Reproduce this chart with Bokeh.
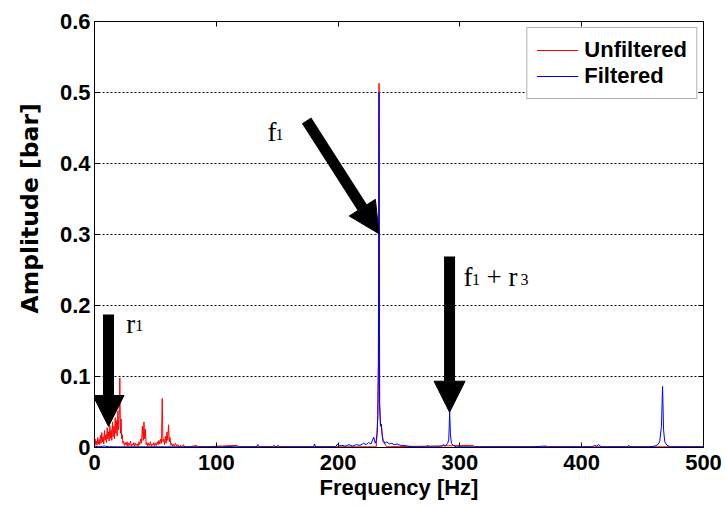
from bokeh.plotting import figure
from bokeh.models import (ColumnDataSource, Arrow, NormalHead, Legend, LegendItem,
                          FixedTicker, Range1d, LinearAxis, Title)
from bokeh.core.properties import value
from bokeh.embed import file_html
from bokeh.resources import INLINE

# ---- spectrum of the raw pressure signal (bar vs Hz) ----
unfilt_freq = [0.0, 0.5, 1.0, 1.6, 2.1, 2.7, 3.2, 3.8, 4.3, 4.9, 5.4, 6.0, 6.5, 7.1, 7.6,
               8.2, 8.7, 9.3, 9.8, 10.4, 10.9, 11.5, 12.0, 12.6, 13.1, 13.7, 14.2, 14.8,
               15.3, 15.9, 16.4, 17.0, 17.5, 18.1, 18.6, 19.2, 19.7, 20.3, 20.8, 21.3, 21.8,
               22.3, 22.8, 23.3, 23.9, 24.5, 25.2, 26.0, 26.7, 27.4, 28.1, 28.8, 29.5, 30.2,
               30.9, 31.6, 32.3, 33.0, 33.7, 34.4, 35.1, 35.8, 36.5, 37.2, 37.9, 38.6, 39.3,
               40.0, 40.6, 41.2, 41.8, 42.4, 43.1, 43.8, 44.5, 45.2, 45.9, 46.6, 47.3, 48.0,
               48.7, 49.4, 50.1, 50.8, 51.5, 52.2, 52.9, 53.6, 54.3, 55.0, 55.6, 56.2, 56.9,
               57.5, 58.2, 58.8, 59.5, 60.1, 60.8, 61.4, 62.0, 62.7, 63.4, 64.1, 64.8, 65.5,
               66.5, 67.5, 68.5, 69.5, 71.0, 72.0, 73.0, 74.0, 78.0, 84.0, 85.0, 90.0,
               117.0, 118.0, 231.3, 232.0, 232.6, 233.1, 233.6, 234.1, 234.8, 235.5, 236.2,
               237.0, 240.0, 311.0, 312.0, 500.0]
unfilt_amp = [0.003, 0.012, 0.004, 0.009, 0.003, 0.014, 0.005, 0.011, 0.004, 0.017, 0.006,
              0.021, 0.008, 0.015, 0.005, 0.024, 0.010, 0.018, 0.007, 0.028, 0.012, 0.022,
              0.009, 0.031, 0.013, 0.025, 0.010, 0.036, 0.015, 0.030, 0.012, 0.042, 0.020,
              0.038, 0.016, 0.052, 0.025, 0.045, 0.098, 0.020, 0.040, 0.012, 0.018, 0.006,
              0.009, 0.003, 0.007, 0.003, 0.008, 0.002, 0.006, 0.003, 0.009, 0.002, 0.005,
              0.003, 0.007, 0.002, 0.006, 0.003, 0.005, 0.002, 0.008, 0.004, 0.012, 0.006,
              0.030, 0.010, 0.036, 0.012, 0.026, 0.004, 0.007, 0.002, 0.006, 0.003, 0.008,
              0.002, 0.005, 0.003, 0.007, 0.002, 0.006, 0.003, 0.008, 0.004, 0.010, 0.005,
              0.012, 0.006, 0.069, 0.008, 0.012, 0.004, 0.016, 0.006, 0.022, 0.010, 0.032,
              0.008, 0.014, 0.003, 0.006, 0.002, 0.005, 0.002, 0.006, 0.002, 0.004, 0.001,
              0.003, 0.001, 0.004, 0.001, 0.001, 0.003, 0.001, 0.001,
              0.003, 0.001, 0.001, 0.020, 0.045, 0.120, 0.513, 0.062, 0.032, 0.030, 0.016,
              0.008, 0.001, 0.003, 0.001, 0.001]

# ---- spectrum after filtering ----
filt_freq = [0.0, 3.0, 8.0, 12.0, 20.0, 30.0, 45.0, 60.0, 75.0, 90.0, 105.0, 117.0, 118.0,
             133.0, 134.0, 135.0, 146.0, 147.0, 149.0, 151.0, 152.0, 165.0, 180.0, 180.6,
             181.5, 198.0, 199.5, 200.5, 203.0, 206.0, 209.0, 212.0, 215.0, 218.0, 221.0,
             223.0, 225.0, 227.0, 229.3, 230.5, 231.3, 232.0, 232.6, 233.1, 233.6, 234.1,
             234.8, 235.5, 236.2, 237.0, 238.5, 240.0, 242.0, 244.0, 246.0, 248.5, 251.0,
             254.0, 257.0, 262.0, 273.0, 273.5, 274.5, 284.0, 286.6, 288.0, 290.0, 290.9,
             291.6, 292.2, 293.0, 294.5, 297.0, 311.0, 330.0, 360.0, 371.0, 372.0, 390.0,
             409.0, 410.5, 412.0, 414.0, 416.0, 438.0, 438.6, 439.5, 455.0, 460.0, 462.5,
             464.0, 465.5, 466.4, 467.2, 468.2, 470.0, 473.0, 485.0, 500.0]
filt_amp = [0.002, 0.001, 0.002, 0.001, 0.001, 0.001, 0.001, 0.001, 0.001, 0.001, 0.001,
            0.002, 0.001, 0.001, 0.004, 0.001, 0.001, 0.003, 0.001, 0.003, 0.001, 0.001,
            0.001, 0.005, 0.001, 0.001, 0.005, 0.002, 0.003, 0.002, 0.004, 0.002, 0.004,
            0.003, 0.006, 0.004, 0.007, 0.005, 0.0146, 0.006, 0.010, 0.020, 0.045, 0.117,
            0.500, 0.060, 0.030, 0.033, 0.018, 0.010, 0.006, 0.008, 0.005, 0.006, 0.004,
            0.005, 0.003, 0.003, 0.002, 0.001, 0.001, 0.003, 0.001, 0.001, 0.004, 0.002,
            0.006, 0.012, 0.050, 0.020, 0.006, 0.003, 0.001, 0.001, 0.001, 0.001, 0.002,
            0.001, 0.001, 0.001, 0.003, 0.002, 0.004, 0.001, 0.001, 0.003, 0.001, 0.001,
            0.002, 0.004, 0.008, 0.030, 0.086, 0.025, 0.008, 0.003, 0.001, 0.001, 0.001]

# ---- axes ----
x_ticks = [0, 100, 200, 300, 400, 500]
y_ticks = [0, 0.1, 0.2, 0.3, 0.4, 0.5, 0.6]
y_tick_labels = ["0", "0.1", "0.2", "0.3", "0.4", "0.5", "0.6"]

# ---- annotation arrows (tail -> tip, data units) ----
arrow_tail_x = [174.1, 291.5, 11.5]
arrow_tail_y = [0.4606, 0.269, 0.1873]
arrow_tip_x = [233.6, 291.5, 11.5]
arrow_tip_y = [0.301, 0.0497, 0.0296]

# ---- annotation texts: f1, f1 + r3, r1 (main glyph + subscript pieces) ----
ann_text = ["f", "1", "f", "1", "+ r", "3", "r", "1"]
ann_x = [142.0, 148.6, 303.0, 309.9, 321.8, 349.8, 26.0, 33.4]
ann_y = [0.445, 0.4408, 0.2399, 0.2366, 0.2399, 0.2366, 0.1742, 0.1718]
ann_size = ["27px", "16px", "27px", "16px", "27px", "16px", "27px", "16px"]

TICK_FONT = "Liberation Sans"

p = figure(width=725, height=508, x_range=Range1d(0, 500), y_range=Range1d(0, 0.6),
           output_backend="svg", toolbar_location=None,
           min_border_left=94, min_border_right=22, min_border_top=21, min_border_bottom=61)
p.background_fill_color = "white"
p.border_fill_color = "white"
p.outline_line_color = "black"
p.outline_line_width = 1

r_unf = p.line(unfilt_freq, unfilt_amp, line_color="#ff0000", line_width=1)
r_fil = p.line(filt_freq, filt_amp, line_color="#0000ff", line_width=1)

# main axes
for ax in (p.xaxis[0], p.yaxis[0]):
    ax.axis_line_color = "black"
    ax.major_tick_line_color = "black"
    ax.major_tick_in = 5
    ax.major_tick_out = 0
    ax.minor_tick_line_color = None
    ax.major_label_text_font = TICK_FONT
    ax.major_label_text_font_style = "bold"
    ax.major_label_text_font_size = "22px"
    ax.major_label_text_color = "black"

p.xaxis.ticker = FixedTicker(ticks=x_ticks)
p.yaxis.ticker = FixedTicker(ticks=y_ticks)
p.yaxis.major_label_overrides = dict(zip(y_ticks, y_tick_labels))
p.xaxis.axis_label = "Frequency [Hz]"
p.xaxis.axis_label_text_font = "Liberation Sans"
p.xaxis.axis_label_text_font_style = "bold"
p.xaxis.axis_label_text_font_size = "22px"
p.xaxis.axis_label_text_color = "black"
p.xaxis.major_label_standoff = 7
p.xaxis.axis_label_standoff = 2
p.yaxis.major_label_standoff = 4

# inward box ticks along the top and right edges (no labels)
for loc, ticks in (("above", x_ticks), ("right", y_ticks)):
    box_ax = LinearAxis(ticker=FixedTicker(ticks=ticks))
    box_ax.major_label_overrides = {t: "" for t in ticks}
    box_ax.major_label_standoff = 0
    box_ax.axis_line_color = "black"
    box_ax.major_tick_line_color = "black"
    box_ax.major_tick_in = 5
    box_ax.major_tick_out = 0
    box_ax.minor_tick_line_color = None
    p.add_layout(box_ax, loc)

# vertical amplitude title, starting a little above the frame bottom
p.add_layout(Title(text="Amplitude [bar]", align="left", offset=134, standoff=26,
                   text_font="DejaVu Sans", text_font_style="bold",
                   text_font_size="23.5px", text_color="black"), "left")

# grid: dotted horizontal lines only
p.xgrid.visible = False
p.ygrid.ticker = FixedTicker(ticks=y_ticks)
p.ygrid.grid_line_color = "black"
p.ygrid.grid_line_dash = "2 2"
p.ygrid.grid_line_width = 1

# arrows
arrow_src = ColumnDataSource(dict(x0=arrow_tail_x, y0=arrow_tail_y, x1=arrow_tip_x, y1=arrow_tip_y))
p.add_layout(Arrow(source=arrow_src, x_start="x0", y_start="y0", x_end="x1", y_end="y1",
                   line_width=11, line_color="black",
                   end=NormalHead(size=31, fill_color="black", line_color="black", line_width=1)))

ann_src = ColumnDataSource(dict(x=ann_x, y=ann_y, text=ann_text, size=ann_size))
p.text(x="x", y="y", text="text", source=ann_src, text_font=value("Liberation Serif"),
       text_font_size="size", text_color="black", text_align="left",
       text_baseline="alphabetic")

legend = Legend(items=[LegendItem(label="Unfiltered", renderers=[r_unf]),
                       LegendItem(label="Filtered", renderers=[r_fil])],
                location="top_right")
legend.label_text_font = "Liberation Sans"
legend.label_text_font_style = "bold"
legend.label_text_font_size = "22px"
legend.label_text_color = "black"
legend.glyph_width = 42
legend.label_standoff = 6
legend.padding = 9
legend.spacing = 0
legend.margin = 6
legend.border_line_color = "#666666"
legend.border_line_width = 1
legend.background_fill_color = "white"
legend.background_fill_alpha = 1
p.add_layout(legend)

open("out.html", "w").write(file_html(p, INLINE))
